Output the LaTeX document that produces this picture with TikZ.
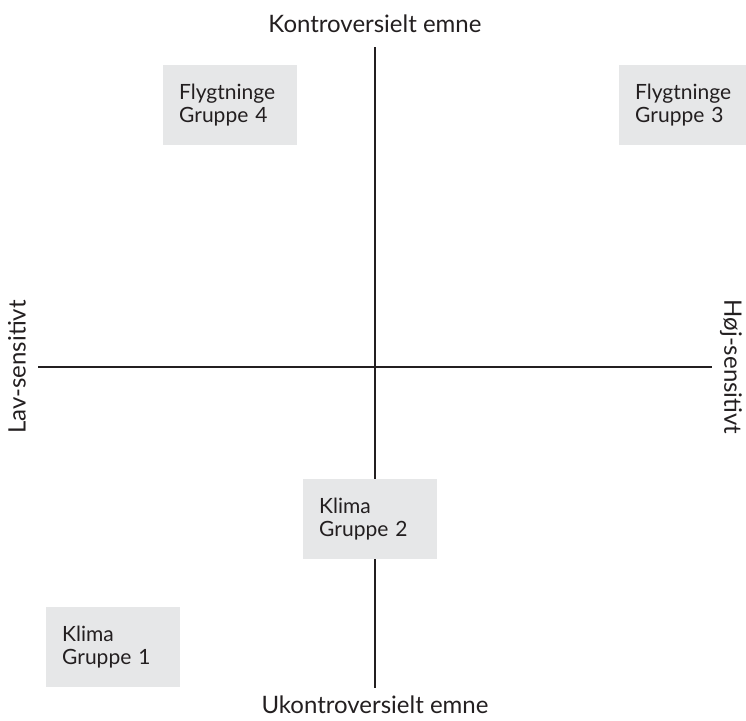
\documentclass[tikz,border=0pt]{standalone}
\usepackage{fontspec}
\setmainfont{Lato}
\definecolor{boxgray}{HTML}{E6E7E8}
\definecolor{inkdark}{HTML}{231F20}
\tikzset{
  axis/.style={draw=inkdark, line width=1.1pt},
  axislabel/.style={text=inkdark, font=\fontsize{24}{28}\selectfont, inner sep=0pt},
  grp/.style={fill=boxgray, text=inkdark, anchor=north west, align=left,
    minimum width=134pt, minimum height=80pt, text width=102pt,
    inner xsep=16pt, inner ysep=0pt, font=\fontsize{21}{23}\selectfont}
}
\begin{document}
\begin{tikzpicture}[x=1pt, y=-1pt]
  \clip (0,0) rectangle (746,720);

  % axis ends
  \coordinate (top) at (375,47);
  \coordinate (bot) at (375,688);
  \coordinate (lft) at (38,367);
  \coordinate (rgt) at (712,367);

  \draw[axis] (top) -- (bot);
  \draw[axis] (lft) -- (rgt);

  % axis labels
  \node[axislabel] (kontro) at (375,24) {Kontroversielt emne};
  \node[axislabel] (ukontro) at (375,705) {Ukontroversielt emne};
  \node[axislabel, rotate=90] (lav) at (17,367) {Lav-sensitivt};
  \node[axislabel, rotate=-90] (hoej) at (731,367) {Høj-sensitivt};

  % groups
  \node[grp] (g4) at (163,65) {Flygtninge\\Gruppe 4};
  \node[grp] (g3) at (619,65) {Flygtninge\\Gruppe 3};
  \node[grp] (g2) at (303,479) {Klima\\Gruppe 2};
  \node[grp] (g1) at (46,607) {Klima\\Gruppe 1};
\end{tikzpicture}
\end{document}
